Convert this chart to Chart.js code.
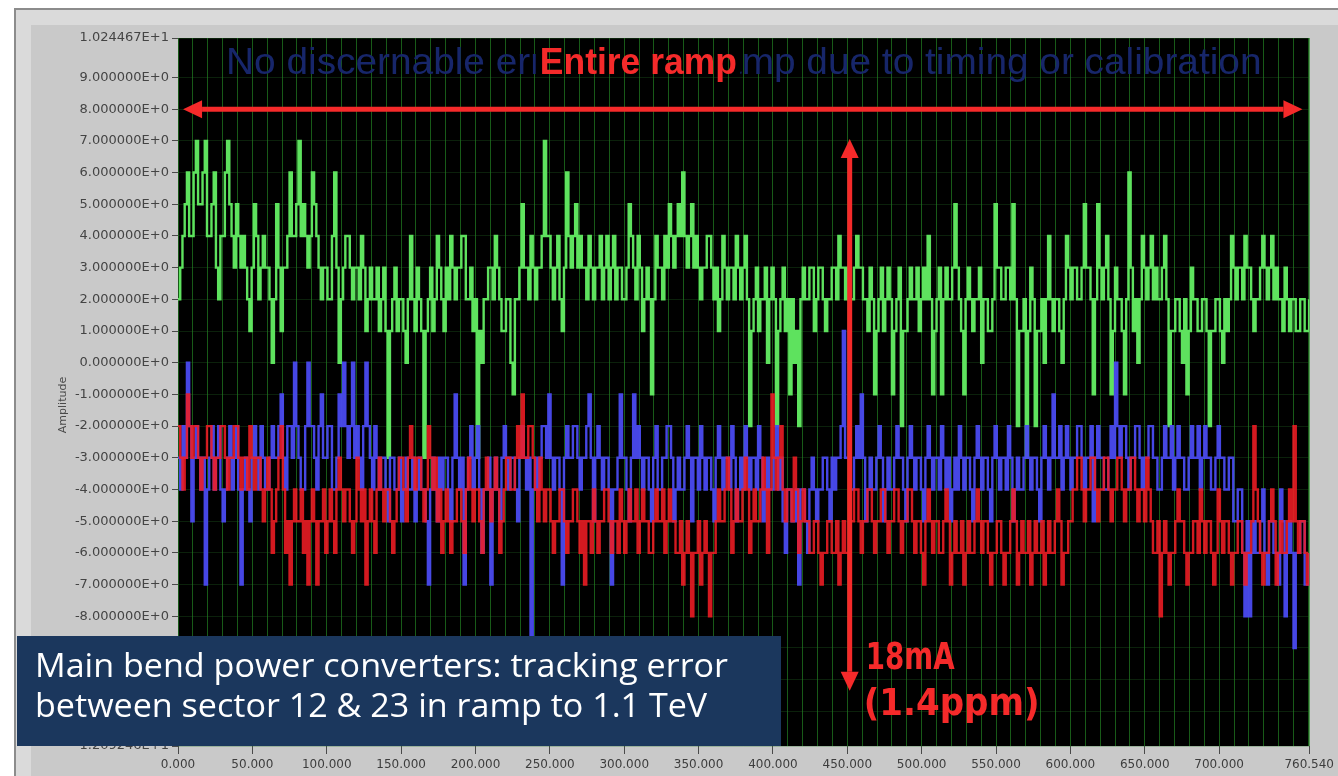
<!DOCTYPE html>
<html>
<head>
<meta charset="utf-8">
<title>Main bend power converters tracking error</title>
<script src="https://cdn.jsdelivr.net/npm/chart.js@4.4.1/dist/chart.umd.min.js"></script>
<style>
  html, body { margin: 0; padding: 0; background: #fff; }
  #wrap { position: absolute; left: 0; top: 0; width: 1338px; height: 776px; }
</style>
</head>
<body>
<div id="wrap"><canvas id="trackChart" width="1338" height="776"></canvas></div>
<script>
// one sample every 1.5 time units (integer steps)
const SAMPLE_STEP = 1.5;
const X_MIN = 0;
const X_MAX = 760.54;
const Y_MIN = -12.09246;
const Y_MAX = 10.24467;

const xTickLabels = [0, 50, 100, 150, 200, 250, 300, 350, 400, 450, 500, 550, 600, 650, 700, 760.54];
const yTickValues = [10.24467, 9, 8, 7, 6, 5, 4, 3, 2, 1, 0, -1, -2, -3, -4, -5, -6, -7, -8, -9, -10, -11, -12.09246];

// green trace (20 samples per row = 30 time units)
const greenTrace = [
  2, 3, 4, 5, 6, 4, 4, 6, 7, 5, 5, 6, 7, 4, 4, 5, 6, 3, 2, 4,
  4, 6, 7, 5, 4, 3, 5, 4, 3, 4, 3, 2, 1, 3, 5, 4, 2, 3, 4, 3,
  3, 2, 0, 2, 5, 3, 1, 3, 3, 4, 6, 4, 4, 5, 7, 4, 5, 4, 3, 4,
  6, 5, 4, 3, 2, 3, 3, 2, 2, 4, 6, 3, 0, 2, 3, 4, 4, 3, 2, 3,
  3, 2, 4, 3, 1, 2, 3, 2, 2, 3, 1, 2, 3, 1, -3, 1, 2, 3, 1, 2,
  2, 1, 0, 2, 4, 2, 1, 3, 2, 1, -3, 1, 2, 3, 1, 2, 4, 3, 2, 1,
  3, 2, 4, 3, 2, 3, 3, 4, 4, 2, 2, 3, 1, 2, -3, 1, 0, 2, 2, 3,
  3, 2, 4, 3, 2, 1, 1, 2, 2, 0, -1, 2, 2, 3, 5, 3, 3, 2, 4, 3,
  2, 3, 3, 4, 7, 4, 4, 3, 2, 3, 4, 2, 1, 3, 6, 4, 3, 4, 5, 3,
  4, 3, 3, 2, 4, 3, 2, 3, 3, 4, 2, 3, 4, 2, 3, 4, 2, 3, 3, 2,
  2, 3, 5, 4, 3, 2, 4, 3, 1, 2, 3, 2, -1, 2, 4, 3, 3, 2, 4, 3,
  5, 4, 3, 4, 5, 4, 6, 4, 3, 4, 5, 3, 4, 3, 2, 3, 3, 4, 4, 3,
  2, 3, 1, 2, 4, 3, 2, 3, 3, 2, 4, 3, 2, 3, 4, 2, -2, 1, 2, 3,
  1, 2, 2, 3, 0, 2, 3, 2, -2, 1, 2, 3, 1, 2, -1, 2, 0, 1, -2, 2,
  3, 2, 2, 3, 3, 1, 2, 3, 3, 2, 1, 2, 2, 3, 3, 2, 4, 3, 3, 2,
  3, 2, 2, 3, 4, 3, 3, 2, 2, 1, 3, 2, -1, 1, 2, 3, 1, 2, 3, 2,
  -1, 1, 2, 3, -2, 1, 1, 2, 3, 2, 2, 3, 1, 2, 3, 2, 4, 2, -1, 1,
  2, 3, -1, 2, 3, 2, 2, 3, 5, 3, 2, 1, -1, 2, 3, 2, 1, 2, 2, 3,
  0, 2, 2, 1, 1, 2, 5, 3, 3, 2, 2, 3, 3, 2, 5, 2, -2, 1, 1, 2,
  -3, 1, 3, 2, -2, 1, 1, 2, 0, 2, 4, 2, 1, 2, 2, 1, 0, 2, 4, 3,
  2, 3, 3, 2, 2, 3, 5, 3, 3, 2, -1, 2, 5, 3, 2, 3, 4, 2, -1, 1,
  3, 2, 2, 1, -1, 2, 6, 3, 1, 2, 0, 2, 4, 3, 2, 3, 4, 2, 3, 2,
  2, 3, 4, 2, -2, 1, 1, 2, 2, 1, 0, 2, -1, 1, 3, 2, 2, 1, 1, 2,
  2, 1, -2, 1, 1, 2, 2, 1, 0, 2, 1, 2, 4, 3, 2, 3, 3, 2, 4, 3,
  3, 2, 1, 2, 2, 3, 4, 3, 2, 3, 4, 2, 3, 2, 2, 1, 3, 2, 1, 2,
  2, 1, 1, 2, 2, 1, 1, 2
];

// blue trace
const blueTrace = [
  -3, -4, -2, -3, 0, -2, -5, -3, -2, -3, -4, -3, -7, -4, -3, -2, -4, -3, -2, -4,
  -5, -4, -3, -2, -4, -3, -2, -4, -7, -4, -3, -4, -5, -3, -2, -3, -4, -2, -3, -4,
  -4, -3, -2, -3, -3, -2, -1, -3, -4, -2, -2, -3, 0, -2, -3, -4, -4, -2, 0, -2,
  -2, -3, -4, -2, -1, -3, -3, -2, -2, -4, -4, -3, -1, -2, 0, -2, -3, -2, 0, -3,
  -2, -3, -4, -2, 0, -2, -3, -4, -2, -3, -4, -3, -3, -4, -5, -3, -3, -4, -4, -3,
  -5, -4, -3, -4, -4, -3, -5, -4, -3, -4, -4, -5, -7, -4, -3, -4, -5, -3, -4, -3,
  -3, -4, -5, -3, -1, -3, -4, -3, -7, -4, -3, -2, -4, -3, -2, -4, -6, -4, -4, -3,
  -7, -4, -3, -4, -5, -3, -2, -3, -4, -3, -3, -4, -5, -3, -2, -3, -4, -3, -9, -4,
  -3, -4, -3, -2, -2, -3, -1, -3, -4, -3, -3, -4, -7, -3, -2, -3, -3, -2, -2, -3,
  -4, -3, -3, -2, -1, -3, -5, -3, -2, -3, -4, -3, -3, -4, -7, -4, -4, -3, -1, -3,
  -3, -4, -5, -3, -1, -3, -2, -3, -4, -3, -3, -4, -5, -3, -2, -4, -4, -3, -3, -2,
  -2, -3, -5, -4, -3, -4, -4, -3, -2, -3, -5, -3, -3, -4, -2, -3, -4, -3, -3, -4,
  -5, -3, -2, -3, -4, -3, -3, -4, -2, -3, -5, -4, -3, -4, -2, -3, -4, -3, -3, -4,
  -2, -3, -5, -4, -3, -4, -4, -3, -2, -4, -3, -5, -6, -4, -4, -5, -5, -4, -7, -4,
  -4, -5, -6, -4, -3, -4, -5, -4, -4, -3, -3, -4, -5, -3, -4, -3, -3, -2, 1, -3,
  -3, -4, -4, -3, -2, -3, -1, -3, -5, -4, -3, -4, -4, -3, -2, -3, -5, -4, -3, -4,
  -4, -3, -2, -3, -3, -4, -5, -3, -2, -3, -4, -3, -3, -4, -5, -3, -2, -3, -4, -3,
  -3, -4, -2, -3, -4, -3, -5, -4, -3, -4, -2, -3, -4, -3, -3, -4, -5, -3, -2, -3,
  -4, -3, -3, -4, -5, -3, -2, -3, -4, -3, -3, -4, -2, -3, -5, -4, -3, -4, -4, -3,
  -2, -3, -4, -3, -3, -4, -5, -3, -2, -3, -4, -3, -1, -3, -3, -2, -4, -3, -2, -3,
  -4, -3, -3, -2, -2, -3, -4, -3, -3, -2, -5, -3, -2, -3, -3, -4, -4, -3, -2, -3,
  0, -2, -3, -2, -2, -3, -4, -3, -3, -2, -2, -3, -4, -3, -3, -2, -2, -3, -3, -4,
  -4, -3, -2, -3, -3, -2, -4, -3, -2, -3, -3, -4, -4, -3, -2, -3, -3, -2, -4, -3,
  -2, -3, -3, -4, -4, -3, -2, -3, -3, -4, -4, -3, -3, -5, -5, -4, -4, -6, -8, -5,
  -8, -6, -5, -6, -6, -5, -4, -6, -7, -5, -5, -6, -6, -7, -4, -5, -8, -6, -5, -6,
  -9, -6, -6, -5, -5, -7, -7, -6
];

// red trace
const redTrace = [
  -2, -3, -4, -3, -1, -2, -3, -2, -2, -3, -4, -3, -3, -2, -2, -3, -4, -3, -3, -2,
  -2, -3, -4, -3, -3, -2, -2, -3, -4, -3, -3, -4, -2, -3, -4, -3, -3, -4, -5, -4,
  -3, -4, -6, -5, -4, -3, -2, -4, -6, -5, -7, -5, -4, -5, -5, -4, -6, -5, -7, -5,
  -4, -5, -7, -5, -5, -4, -6, -5, -4, -5, -6, -4, -3, -4, -5, -4, -4, -5, -6, -5,
  -3, -4, -5, -4, -7, -5, -4, -5, -6, -4, -3, -4, -5, -4, -4, -5, -6, -5, -4, -3,
  -3, -4, -5, -3, -2, -3, -4, -3, -3, -4, -5, -4, -2, -3, -4, -3, -5, -4, -6, -5,
  -4, -5, -6, -5, -5, -4, -4, -5, -6, -4, -3, -4, -5, -4, -4, -5, -6, -4, -3, -4,
  -5, -4, -3, -4, -6, -5, -4, -3, -3, -4, -4, -3, -2, -3, -1, -3, -3, -2, -2, -3,
  -4, -5, -3, -4, -5, -4, -4, -5, -6, -5, -5, -4, -4, -5, -6, -5, -5, -4, -4, -5,
  -6, -5, -7, -5, -5, -6, -4, -5, -6, -5, -5, -4, -4, -5, -6, -5, -5, -6, -4, -5,
  -6, -5, -4, -5, -5, -4, -6, -5, -4, -5, -5, -6, -6, -5, -4, -5, -5, -4, -6, -5,
  -4, -5, -5, -6, -6, -5, -7, -6, -5, -6, -8, -6, -6, -5, -7, -6, -5, -6, -8, -6,
  -6, -5, -4, -5, -5, -4, -3, -4, -6, -5, -4, -5, -5, -4, -3, -4, -6, -5, -4, -5,
  -5, -4, -3, -4, -6, -4, -1, -3, -4, -3, -2, -4, -5, -4, -4, -5, -3, -4, -6, -5,
  -4, -5, -5, -6, -6, -5, -5, -6, -7, -6, -6, -5, -5, -6, -6, -5, -7, -6, -5, -6,
  -6, -5, -5, -4, -4, -5, -6, -5, -5, -4, -4, -5, -6, -5, -5, -4, -4, -5, -6, -5,
  -5, -4, -4, -5, -6, -5, -5, -4, -4, -5, -6, -5, -5, -6, -7, -5, -4, -5, -6, -5,
  -5, -6, -6, -5, -4, -5, -7, -6, -5, -6, -6, -5, -7, -6, -5, -6, -6, -5, -4, -5,
  -6, -5, -5, -6, -7, -6, -6, -5, -5, -6, -7, -6, -6, -5, -4, -5, -7, -6, -5, -6,
  -6, -5, -7, -6, -5, -6, -6, -5, -7, -6, -5, -6, -6, -5, -4, -5, -7, -6, -6, -5,
  -5, -4, -4, -3, -3, -4, -5, -4, -4, -3, -3, -4, -5, -4, -4, -3, -3, -4, -5, -4,
  -4, -3, -3, -4, -5, -4, -4, -3, -3, -4, -5, -4, -4, -5, -3, -4, -5, -6, -6, -5,
  -8, -6, -5, -6, -7, -6, -6, -5, -4, -5, -5, -6, -7, -6, -6, -5, -5, -6, -4, -5,
  -6, -5, -5, -6, -7, -6, -4, -5, -6, -5, -5, -6, -7, -6, -6, -5, -5, -6, -7, -6,
  -6, -5, -2, -4, -5, -6, -7, -6, -6, -5, -4, -5, -7, -6, -5, -6, -6, -5, -4, -5,
  -2, -5, -6, -5, -5, -6, -7, -6
];

const toPoints = (arr) => arr.map((v, i) => ({ x: i * SAMPLE_STEP, y: v }));

const RED = '#f52a2a';

function fitText(ctx, text, left, baseline, width, font, color) {
  ctx.save();
  ctx.font = font;
  const w = ctx.measureText(text).width;
  ctx.translate(left, baseline);
  ctx.scale(width / w, 1);
  ctx.fillStyle = color;
  ctx.textBaseline = 'alphabetic';
  ctx.fillText(text, 0, 0);
  ctx.restore();
}

function doubleArrow(ctx, x1, y1, x2, y2) {
  const len = Math.hypot(x2 - x1, y2 - y1);
  const ux = (x2 - x1) / len, uy = (y2 - y1) / len;
  const head = 19, half = 9;
  ctx.save();
  ctx.strokeStyle = RED;
  ctx.fillStyle = RED;
  ctx.lineWidth = 5;
  ctx.beginPath();
  ctx.moveTo(x1 + ux * head, y1 + uy * head);
  ctx.lineTo(x2 - ux * head, y2 - uy * head);
  ctx.stroke();
  [[x1, y1, 1], [x2, y2, -1]].forEach(([px, py, s]) => {
    const bx = px + ux * head * s, by = py + uy * head * s;
    ctx.beginPath();
    ctx.moveTo(px, py);
    ctx.lineTo(bx - uy * half, by + ux * half);
    ctx.lineTo(bx + uy * half, by - ux * half);
    ctx.closePath();
    ctx.fill();
  });
  ctx.restore();
}

// grey LabVIEW-like panel and black plot background
const panelPlugin = {
  id: 'panel',
  beforeDraw(chart) {
    const { ctx, chartArea: a, width, height } = chart;
    ctx.save();
    ctx.fillStyle = '#ffffff';
    ctx.fillRect(0, 0, width, height);
    ctx.fillStyle = '#c9c9c9';
    ctx.fillRect(14, 8, width - 14, height - 8);
    ctx.fillStyle = '#dadada';
    ctx.fillRect(16, 10, width - 16, 15);
    ctx.fillRect(16, 10, 15, height - 10);
    ctx.fillStyle = '#8c8c8c';
    ctx.fillRect(14, 8, width - 14, 2);
    ctx.fillRect(14, 8, 2, height - 8);
    ctx.fillStyle = '#000000';
    ctx.fillRect(a.left, a.top, a.right - a.left, a.bottom - a.top);
    ctx.restore();
  },
};

// red arrows and labels drawn in data units
const notesPlugin = {
  id: 'notes',
  afterDatasetsDraw(chart) {
    const { ctx, chartArea: a } = chart;
    const xs = chart.scales.x, ys = chart.scales.y;
    const px = (v) => xs.getPixelForValue(v);
    const py = (v) => ys.getPixelForValue(v);

    // faint blue remark, partly hidden behind "Entire ramp"
    ctx.save();
    ctx.beginPath();
    ctx.rect(a.left, a.top, a.right - a.left, 60);
    ctx.rect(px(240.5), a.top + 2, px(378) - px(240.5), 42);
    ctx.clip('evenodd');
    fitText(ctx, 'No discernable error during ramp due to timing or calibration',
      px(32.3), py(9.11), px(728.5) - px(32.3), '36px "Liberation Sans", Arial, sans-serif', '#17266a');
    ctx.restore();

    fitText(ctx, 'Entire ramp', px(243.3), py(9.11), px(375.7) - px(243.3),
      'bold 36px "Liberation Sans Narrow", "Liberation Sans", sans-serif', RED);

    doubleArrow(ctx, px(3.4), py(8), px(756), py(8));
    doubleArrow(ctx, px(451.6), py(7.06), px(451.6), py(-10.35));

    fitText(ctx, '18mA', px(462.4), py(-9.65), px(522.2) - px(462.4),
      'bold 38px "DejaVu Sans", sans-serif', RED);
    fitText(ctx, '(1.4ppm)', px(461), py(-11.1), px(579.3) - px(461),
      'bold 38px "DejaVu Sans", sans-serif', RED);

    // y axis name
    ctx.save();
    ctx.translate(63, 405);
    ctx.rotate(-Math.PI / 2);
    ctx.font = '11px "DejaVu Sans", sans-serif';
    ctx.fillStyle = '#4a4a4a';
    ctx.textAlign = 'center';
    ctx.textBaseline = 'middle';
    ctx.fillText('Amplitude', 0, 0);
    ctx.restore();
  },
};

// slide caption box laid over the lower left corner
const captionPlugin = {
  id: 'caption',
  afterDraw(chart) {
    const { ctx } = chart;
    ctx.save();
    ctx.fillStyle = '#1b375d';
    ctx.fillRect(17, 636, 764, 110);
    ctx.font = '32px "Open Sans", "Noto Sans", sans-serif';
    const line1 = 'Main bend power converters: tracking error';
    const line2 = 'between sector 12 & 23 in ramp to 1.1 TeV';
    const k = 693 / ctx.measureText(line1).width;
    ctx.fillStyle = '#ffffff';
    [[line1, 677], [line2, 717]].forEach(([t, y]) => {
      ctx.save();
      ctx.translate(35, y);
      ctx.scale(k, 1);
      ctx.fillText(t, 0, 0);
      ctx.restore();
    });
    ctx.restore();
  },
};

const gridXs = [];
for (let v = 0; v <= 760; v += 10) gridXs.push(v);
gridXs.push(X_MAX);

const traceStyle = { stepped: true, borderWidth: 2.4, pointRadius: 0, tension: 0, fill: false };

const cfg = {
  type: 'line',
  data: {
    datasets: [
      { ...traceStyle, label: 'red', data: toPoints(redTrace), borderColor: 'rgba(240,28,36,0.88)', order: 1 },
      { ...traceStyle, label: 'blue', data: toPoints(blueTrace), borderColor: 'rgba(74,74,240,0.95)', order: 2 },
      { ...traceStyle, label: 'green', data: toPoints(greenTrace), borderColor: '#5ee25e', order: 3 },
    ],
  },
  options: {
    responsive: false,
    animation: false,
    events: [],
    layout: { padding: { left: 0, top: 38, right: 28, bottom: 0 } },
    plugins: { legend: { display: false }, tooltip: { enabled: false } },
    scales: {
      x: {
        type: 'linear',
        min: X_MIN,
        max: X_MAX,
        afterBuildTicks: (s) => { s.ticks = gridXs.map((v) => ({ value: v })); },
        afterFit: (s) => { s.height = 30; },
        border: { display: false },
        grid: {
          color: 'rgba(40,150,40,0.6)',
          lineWidth: 1,
          tickLength: 8,
          tickColor: (c) => (xTickLabels.includes(c.tick.value) ? '#4a4a4a' : 'rgba(0,0,0,0)'),
        },
        ticks: {
          autoSkip: false,
          maxRotation: 0,
          minRotation: 0,
          padding: 4,
          color: '#3d3d3d',
          font: { family: '"DejaVu Sans", sans-serif', size: 12 },
          callback: (v) => (xTickLabels.includes(v) ? v.toFixed(3) : ''),
        },
      },
      y: {
        type: 'linear',
        min: Y_MIN,
        max: Y_MAX,
        afterBuildTicks: (s) => { s.ticks = yTickValues.map((v) => ({ value: v })); },
        afterFit: (s) => { s.width = 178; },
        border: { display: false },
        grid: {
          color: 'rgba(40,120,40,0.28)',
          lineWidth: 1,
          tickLength: 6,
          tickColor: '#4a4a4a',
        },
        ticks: {
          autoSkip: false,
          padding: 3,
          color: '#444444',
          font: { family: '"DejaVu Sans", sans-serif', size: 13 },
          callback: (v) => v.toExponential(6).toUpperCase(),
        },
      },
    },
  },
  plugins: [panelPlugin, notesPlugin, captionPlugin],
};

new Chart(document.getElementById('trackChart'), cfg);
</script>
</body>
</html>
